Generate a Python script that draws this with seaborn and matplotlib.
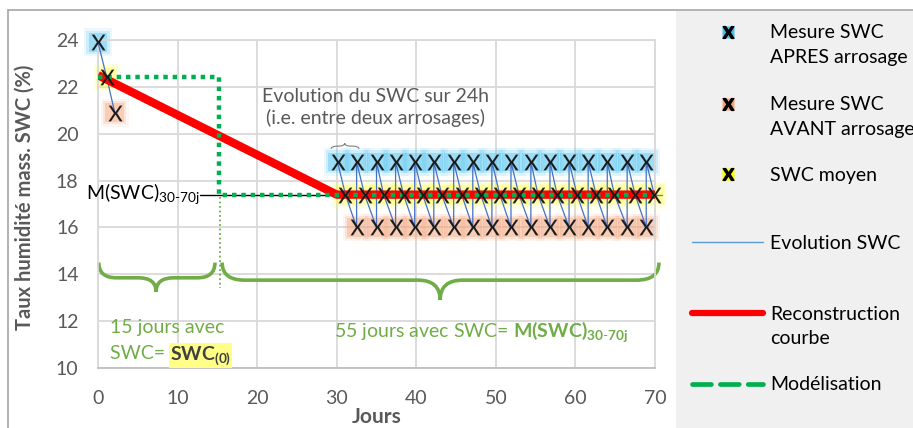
import matplotlib
matplotlib.use("Agg")
import matplotlib.pyplot as plt
import seaborn as sns
import pandas as pd
from matplotlib.lines import Line2D
from matplotlib.patches import Rectangle, PathPatch
from matplotlib.path import Path
from matplotlib.legend_handler import HandlerTuple

# values (days, SWC in %)
apres_x = [0.0, 30.1, 32.5, 35.0, 37.4, 39.8, 42.2, 44.7, 47.1, 49.5,
           51.9, 54.4, 56.8, 59.2, 61.6, 64.0, 66.5, 68.9]
apres_y = [23.9, 18.8, 18.8, 18.8, 18.8, 18.8, 18.8, 18.8, 18.8, 18.8,
           18.8, 18.8, 18.8, 18.8, 18.8, 18.8, 18.8, 18.8]
moyen_x = [1.1, 31.1, 33.5, 35.9, 38.4, 40.8, 43.2, 45.7, 48.1, 50.5,
           52.9, 55.3, 57.7, 60.2, 62.6, 64.9, 67.5, 69.9]
moyen_y = [22.4, 17.4, 17.4, 17.4, 17.4, 17.4, 17.4, 17.4, 17.4, 17.4,
           17.4, 17.4, 17.4, 17.4, 17.4, 17.4, 17.4, 17.4]
avant_x = [2.1, 32.5, 35.0, 37.4, 39.8, 42.2, 44.7, 47.1, 49.5, 51.9,
           54.4, 56.8, 59.2, 61.6, 64.0, 66.5, 68.9]
avant_y = [20.9, 16.0, 16.0, 16.0, 16.0, 16.0, 16.0, 16.0, 16.0, 16.0,
           16.0, 16.0, 16.0, 16.0, 16.0, 16.0, 16.0]

recon_x = [0, 30, 70]
recon_y = [22.5, 17.4, 17.4]
model_x = [0, 15.2, 15.2, 70]
model_y = [22.4, 22.4, 17.4, 17.4]
m_swc = 17.4

# colours
BLUE_GLOW = "#4CC2F1"
ORANGE_GLOW = "#F4A57C"
YELLOW_GLOW = "#FFFF55"
GREEN_TXT = "#70AD47"
GREY_TXT = "#595959"

# evolution line: after -> mean -> before -> next after ...
evo_x = [apres_x[0], moyen_x[0], avant_x[0]]
evo_y = [apres_y[0], moyen_y[0], avant_y[0]]
evo_u = [0, 0, 0]
for k in range(1, len(apres_x)):
    evo_x += [apres_x[k], moyen_x[k]]
    evo_y += [apres_y[k], moyen_y[k]]
    evo_u += [1, 1]
    if k < len(avant_x):
        evo_x.append(avant_x[k]); evo_y.append(avant_y[k]); evo_u.append(1)
evo = pd.DataFrame({"x": evo_x, "y": evo_y, "u": evo_u})

sns.set_theme(style="whitegrid")
plt.rcParams["font.family"] = ["Lato", "DejaVu Sans"]
plt.rcParams["mathtext.fontset"] = "custom"
plt.rcParams["mathtext.rm"] = "Lato"
plt.rcParams["mathtext.it"] = "Lato:italic"
plt.rcParams["mathtext.bf"] = "Lato:bold"
plt.rcParams["mathtext.sf"] = "Lato"

W, H = 913, 428
fig = plt.figure(figsize=(W / 100, H / 100), dpi=100)
fig.patch.set_facecolor("white")

# legend pane + chart frame
fig.add_artist(Rectangle((676 / W, 0), 1 - 676 / W, 1 - 11 / H,
                         transform=fig.transFigure, fc="#F0F0F0", ec="none", zorder=-5))
fig.add_artist(Line2D([8 / W, 1], [1 - 10 / H, 1 - 10 / H], transform=fig.transFigure,
                      color="#A6A6A6", lw=1.2))
fig.add_artist(Line2D([8 / W, 8 / W], [0, 1 - 10 / H], transform=fig.transFigure,
                      color="#A6A6A6", lw=1.2))

ax = fig.add_axes([98 / W, 1 - 368 / H, (655 - 98) / W, (368 - 40) / H])
ax.set_facecolor("white")

# reference line for M(SWC)
ax.plot([12.8, 70.9], [m_swc, m_swc], color="black", lw=1, zorder=2, clip_on=False)

# soft glows behind the markers
for gx, gy, gc in [(apres_x, apres_y, BLUE_GLOW), (moyen_x, moyen_y, YELLOW_GLOW),
                   (avant_x, avant_y, ORANGE_GLOW)]:
    for s, a in [(400, 0.10), (280, 0.2), (180, 0.38)]:
        sns.scatterplot(x=gx, y=gy, marker="s", s=s, color=gc, alpha=a,
                        edgecolor="none", linewidth=0, ax=ax, zorder=2.5, clip_on=False)

sns.lineplot(data=evo, x="x", y="y", units="u", estimator=None, sort=False,
             color="#4472C4", lw=0.9, ax=ax, zorder=3)
sns.lineplot(x=recon_x, y=recon_y, estimator=None, sort=False, color="#FF0000",
             lw=6, ax=ax, zorder=4, solid_capstyle="butt")
sns.lineplot(x=model_x, y=model_y, estimator=None, sort=False, color="#00B050",
             lw=3.2, ax=ax, zorder=5, linestyle=(0, (1, 1.1)), dash_capstyle="butt")

for gx, gy in [(apres_x, apres_y), (moyen_x, moyen_y), (avant_x, avant_y)]:
    sns.scatterplot(x=gx, y=gy, marker=r"$\mathrm{X}$", s=125, color="#1A1A1A",
                    edgecolor="#1A1A1A", linewidth=0.1, ax=ax, zorder=7, clip_on=False)

# thin dotted marker at day 15
ax.plot([15.3, 15.3], [17.3, 13.4], color=GREEN_TXT, lw=1.3, ls=(0, (1, 1.5)), zorder=3)


def brace(x0, x1, xt, y_end, y_mid, y_tip, r, **kw):
    verts = [(x0, y_end), (x0, y_mid), (x0 + r, y_mid), (xt - r, y_mid),
             (xt, y_mid), (xt, y_tip), (xt, y_mid), (xt + r, y_mid),
             (x1 - r, y_mid), (x1, y_mid), (x1, y_end)]
    codes = [Path.MOVETO, Path.CURVE3, Path.CURVE3, Path.LINETO,
             Path.CURVE3, Path.CURVE3, Path.CURVE3, Path.CURVE3,
             Path.LINETO, Path.CURVE3, Path.CURVE3]
    ax.add_patch(PathPatch(Path(verts, codes), fc="none", clip_on=False, **kw))


brace(0.1, 14.7, 7.3, 14.5, 13.85, 13.25, 2.2, ec=GREEN_TXT, lw=2.6)
brace(15.6, 70.5, 43.0, 14.5, 13.75, 12.9, 2.8, ec=GREEN_TXT, lw=2.6)
brace(29.3, 32.8, 31.0, 19.35, 19.47, 19.6, 0.8, ec="#7F7F7F", lw=0.8)

ax.text(34.9, 21.12, "Evolution du SWC sur 24h\n(i.e. entre deux arrosages)",
        ha="center", va="center", color=GREY_TXT, fontsize=14, linespacing=1.25)
ax.text(12.75, 17.45, r"M(SWC)$_{\mathregular{30\text{-}70j}}$", ha="right", va="center",
        color="black", fontsize=14)
ax.text(1.5, 11.72, "15 jours avec", ha="left", va="center", color=GREEN_TXT, fontsize=14)
t1 = ax.text(1.5, 10.6, "SWC= ", ha="left", va="center", color=GREEN_TXT, fontsize=14)
ax.annotate(r"$\mathbf{SWC_{(0)}}$", xy=(1, 0), xycoords=t1, va="bottom", ha="left",
            xytext=(0, -3), textcoords="offset points", color="#404040", fontsize=14,
            bbox=dict(boxstyle="square,pad=0.05", fc="#FFFF88", ec="none"))
ax.text(29.7, 11.55, r"55 jours avec SWC= $\mathbf{M(SWC)_{30\text{-}70j}}$", ha="left",
        va="center", color=GREEN_TXT, fontsize=14)

ax.set_xlim(0, 70)
ax.set_ylim(10, 24)
ax.set_xticks(range(0, 71, 10))
ax.set_yticks(range(10, 25, 2))
ax.grid(True, color="#D9D9D9", lw=1.3)
ax.tick_params(length=0, labelsize=14, labelcolor=GREY_TXT)
ax.tick_params(axis="y", pad=14)
ax.tick_params(axis="x", pad=16)
for side in ["left", "top", "right"]:
    ax.spines[side].set_color("#D9D9D9")
    ax.spines[side].set_linewidth(1.3)
ax.spines["bottom"].set_color("#BFBFBF")
ax.spines["bottom"].set_linewidth(1.3)
ax.set_xlabel("Jours", fontsize=15, fontweight="bold", color=GREY_TXT, labelpad=0)
ax.set_ylabel("Taux humidité mass. SWC (%)", fontsize=14.5, fontweight="bold", color=GREY_TXT)
ax.yaxis.set_label_coords(-0.113, 0.52)

# legend pane, one entry per block
FS = 14
fs_px = FS * 100 / 72
hl = 71 / fs_px
htp = 7 / fs_px


def mk_handle(col):
    return (Line2D([], [], marker="s", ls="none", ms=8.5, mfc=col, mec="none"),
            Line2D([], [], marker=r"$\mathbf{X}$", ls="none", ms=8.5, color="black"))


entries = [
    (mk_handle(BLUE_GLOW), "Mesure SWC", "APRES arrosage", 33),
    (mk_handle(ORANGE_GLOW), "Mesure SWC", "AVANT arrosage", 105),
    (mk_handle("#FFFF00"), "SWC moyen", None, 175),
    (Line2D([], [], color="#5B9BD5", lw=1), "Evolution SWC", None, 243),
    (Line2D([], [], color="#FF0000", lw=4.5, solid_capstyle="round"), "Reconstruction", "courbe", 314),
    (Line2D([], [], color="#00B050", lw=3.4, ls=(0, (4, 1.9)), dash_capstyle="round"), "Modélisation", None, 385),
]
for h, l1, l2, ypx in entries:
    fig.legend(handles=[h], labels=[l1], loc="center left",
               bbox_to_anchor=(692 / W, 1 - ypx / H), frameon=False, fontsize=FS,
               handlelength=hl, handletextpad=htp, borderpad=0, borderaxespad=0,
               handler_map={tuple: HandlerTuple(ndivide=1, pad=0)}, labelcolor="black")
    if l2:
        fig.text(770 / W, 1 - (ypx + 25) / H, l2, ha="left", va="center", fontsize=FS, color="black")

fig.savefig("out.png", dpi=100)
